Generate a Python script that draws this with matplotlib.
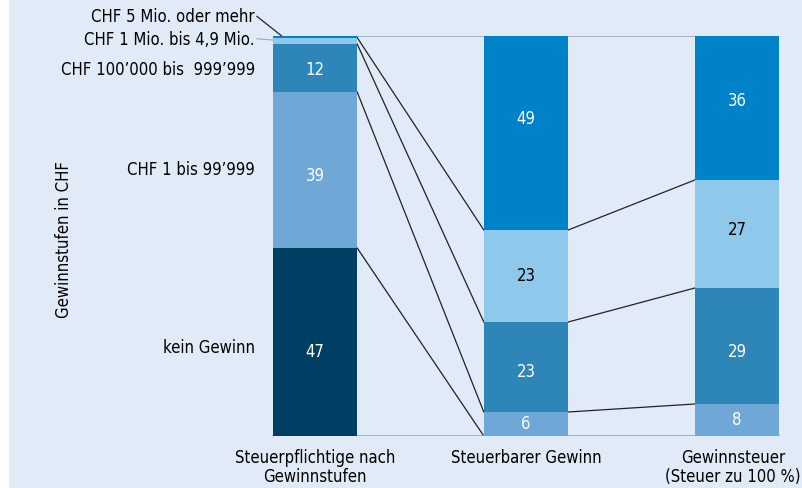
#!/usr/bin/env python3
import numpy as np
import matplotlib.pyplot as plt
from matplotlib.patches import Rectangle

plt.rcParams['font.family'] = ['DejaVu Sans']
plt.rcParams['font.stretch'] = 'condensed'

bars = ['Steuerpflichtige nach\nGewinnstufen', 'Steuerbarer Gewinn', 'Gewinnsteuer\n(Steuer zu 100 %)']
stufen = ['kein Gewinn', "CHF 1 bis 99\u2019999", "CHF 100\u2019000 bis  999\u2019999",
          'CHF 1 Mio. bis 4,9 Mio.', 'CHF 5 Mio. oder mehr']
colors = ['#003f64', '#6fa8d6', '#2e86b8', '#8ec8ea', '#0082c8']

# shares in %, bottom to top
pflichtige = [47, 39, 12, 1.6, 0.4]
gewinn = [0, 6, 22.5, 23, 48.5]
steuer = [0, 8, 29, 27, 36]
labels = [['47', '39', '12', '', ''], ['', '6', '23', '23', '49'], ['', '8', '29', '27', '36']]
nudge = [[-2.5, -1.5, -0.5, 0, 0], [0, 0, -1.2, 0, 3.5], [0, 0, -1.6, 1.1, 1.75]]

bg = '#e1ebf7'
fig = plt.figure(figsize=(8.02, 4.88), dpi=100, facecolor=bg)
fig.patches.append(Rectangle((0, 0), 8 / 802, 1, transform=fig.transFigure, color='white', zorder=0))
ax = fig.add_axes([0, 52 / 488, 1, 400 / 488])
ax.set_facecolor(bg)
ax.set_xlim(-315 / 211, 487 / 211)
ax.set_ylim(0, 100)
ax.axis('off')

w = 0.4
data = [pflichtige, gewinn, steuer]
for i, vals in enumerate(data):
    bottoms = np.concatenate([[0], np.cumsum(vals)[:-1]])
    for j, v in enumerate(vals):
        if v <= 0:
            continue
        ax.bar(i, v, w, bottom=bottoms[j], color=colors[j], zorder=2)
        if labels[i][j]:
            tc = 'black' if colors[j] == '#8ec8ea' else 'white'
            ax.text(i, bottoms[j] + v / 2 + nudge[i][j], labels[i][j], ha='center', va='center',
                    color=tc, fontsize=12, zorder=3)
    ax.text(i - (0.02 if i == 2 else 0), -3.2, bars[i], ha='center', va='top', fontsize=12,
            linespacing=1.05, clip_on=False)

# connectors between bars
for i in range(2):
    left = np.concatenate([[0], np.cumsum(data[i])])
    right = np.concatenate([[0], np.cumsum(data[i + 1])])
    for k in range(1, len(left) - 1):
        ax.plot([i + w / 2, i + 1 - w / 2], [left[k], right[k]], color='#222222', lw=0.9, zorder=1)
ax.plot([w / 2, 2 - w / 2], [100, 100], color='#a0a8b4', lw=1.2, zorder=1)
ax.plot([-w / 2, 2 + w / 2], [0, 0], color='#a0a8b4', lw=1.2, zorder=1)

# level labels at the left
lx = -0.285
ax.text(lx, 22, stufen[0], ha='right', va='center', fontsize=12)
ax.text(lx, 66.5, stufen[1], ha='right', va='center', fontsize=12)
ax.text(lx, 91.5, stufen[2], ha='right', va='center', fontsize=12)
ax.text(lx, 99, stufen[3], ha='right', va='center', fontsize=12)
ax.text(lx, 104.7, stufen[4], ha='right', va='center', fontsize=12)
ax.plot([lx + 0.01, -w / 2], [99.3, 99.0], color='#a0a8b4', lw=0.8, clip_on=False)
ax.plot([lx + 0.01, -w / 2 + 0.04], [104.9, 100.1], color='#222222', lw=0.9, clip_on=False)

ax.text(-1.19, 49, 'Gewinnstufen in CHF', rotation=90, ha='center', va='center', fontsize=12)

plt.savefig('out.png', dpi=100, facecolor=bg)
